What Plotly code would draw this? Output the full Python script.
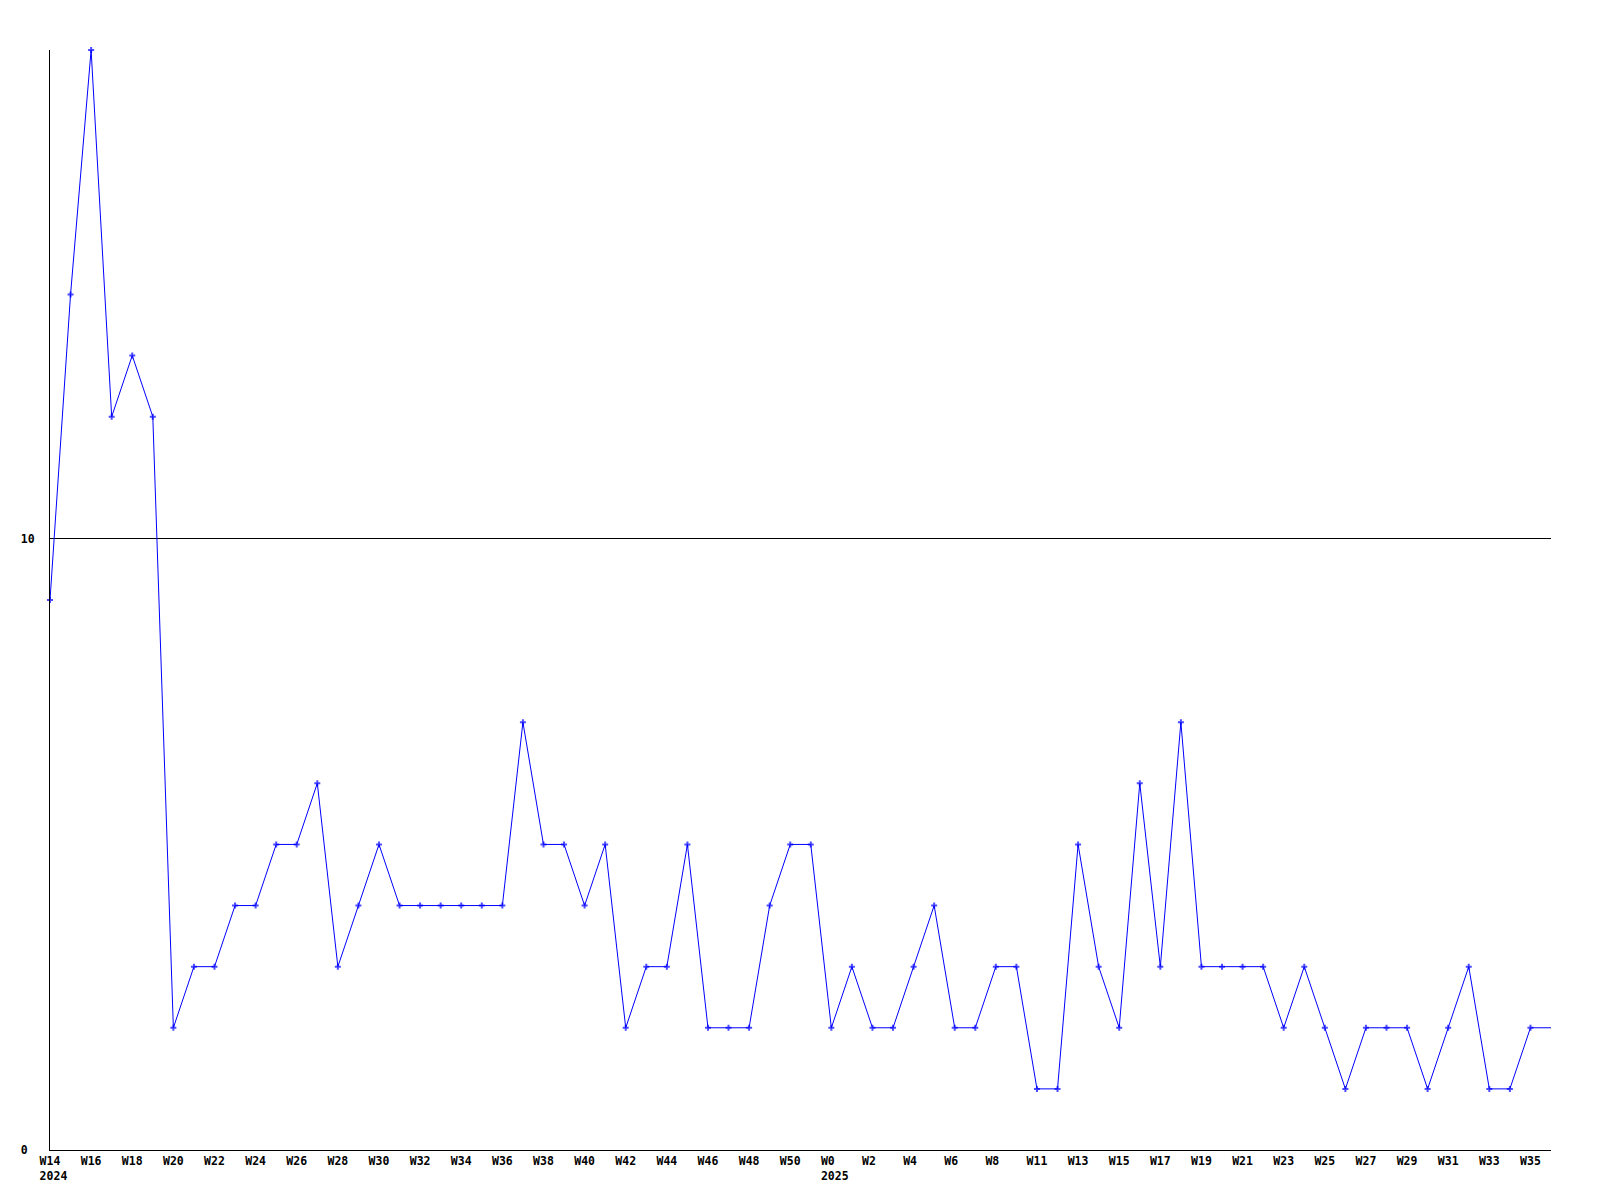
import plotly.graph_objects as go

weeks = (
    [f"W{w}" for w in range(14, 52)]
    + [f"W{w}" for w in range(0, 10)]
    + [f"W{w}" for w in range(11, 37)]
)

values = [
    9, 14, 18, 12, 13, 12, 2, 3, 3, 4,
    4, 5, 5, 6, 3, 4, 5, 4, 4, 4,
    4, 4, 4, 7, 5, 5, 4, 5, 2, 3,
    3, 5, 2, 2, 2, 4, 5, 5, 2, 3,
    2, 2, 3, 4, 2, 2, 3, 3, 1, 1,
    5, 3, 2, 6, 3, 7, 3, 3, 3, 3,
    2, 3, 2, 1, 2, 2, 2, 1, 2, 3,
    1, 1, 2, 2,
]

year_marks = {0: "2024", 38: "2025"}

y_tick_vals = [0, 10]
y_tick_text = ["0", "10"]

NB = "\u00a0"
x_idx = list(range(len(weeks)))
tick_vals = x_idx[::2]
tick_text = []
for i in tick_vals:
    # labels are left-aligned in the original: pad to 3 monospace chars
    lab = weeks[i] + NB * (3 - len(weeks[i]))
    if i in year_marks:
        lab = lab + "<br>" + NB + year_marks[i]
    tick_text.append(lab)

wmax = max(len(t) for t in y_tick_text)
y_text_padded = [t + NB * (wmax - len(t)) for t in y_tick_text]

marker_sizes = [5] * (len(values) - 1) + [0]

fig = go.Figure()
fig.add_trace(go.Scatter(
    x=x_idx, y=values, mode="lines+markers",
    line=dict(color="#0000ff", width=1),
    marker=dict(color="#0000ff", size=marker_sizes, symbol="cross",
                line=dict(width=0)),
    cliponaxis=False,
    hoverinfo="y",
))

font = dict(family="DejaVu Sans Mono", size=11.5, color="black", weight="bold")

fig.update_layout(
    width=1592, height=1192,
    paper_bgcolor="white", plot_bgcolor="white",
    margin=dict(l=42, r=49, t=42, b=50),
    showlegend=False,
    font=font,
    xaxis=dict(
        range=[0, len(weeks) - 1],
        tickvals=tick_vals, ticktext=tick_text,
        showgrid=False, zeroline=False,
        showline=True, linecolor="black", linewidth=1,
        ticks="", tickangle=0, tickfont=font, automargin=False,
    ),
    yaxis=dict(
        range=[0, 18],
        tickvals=y_tick_vals, ticktext=y_text_padded,
        showgrid=True, gridcolor="black", gridwidth=1,
        zeroline=False,
        showline=True, linecolor="black", linewidth=1,
        ticks="", tickfont=font, ticklabelstandoff=12, automargin=False,
    ),
)

fig.write_html("out.html")
